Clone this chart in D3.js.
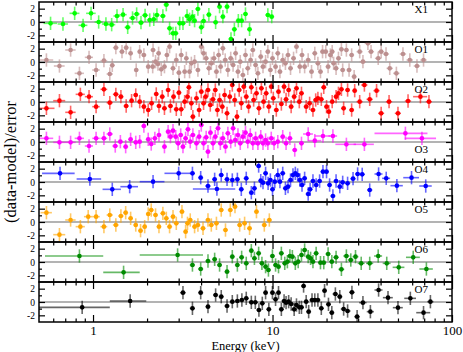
<!DOCTYPE html>
<html>
<head>
<meta charset="utf-8">
<script src="https://cdn.jsdelivr.net/npm/d3@7"></script>
<style>
  body { margin: 0; background: #fff; }
  svg { display: block; }
  text { font-family: "Liberation Serif", "Times New Roman", serif; }
</style>
</head>
<body>
<svg id="chart" width="463" height="352"></svg>
<script>
// Data: [energy keV, (data-model)/error, energy half-width keV]
var x1Data = [[0.58,-0.2,0.05],[0.68,-0.3,0.045],[0.79,1.3,0.05],[0.88,-0.5,0.05],[0.975,1.3,0.06],[1.075,0.0,0.055],[1.18,-0.3,0.06],[1.27,-0.4,0.06],[1.36,0.9,0.06],[1.47,1.1,0.07],[1.56,-0.8,0.06],[1.66,0.6,0.07],[1.75,1.2,0.07],[1.85,-0.1,0.07],[1.95,1.0,0.08],[2.07,0.3,0.08],[2.18,0.4,0.08],[2.27,1.05,0.08],[2.45,0.9,0.09],[2.56,2.6,0.09],[2.67,-0.95,0.09],[2.79,-1.7,0.1],[2.89,-1.7,0.1],[3.04,-0.2,0.1],[3.17,-0.2,0.11],[3.34,0.9,0.11],[3.45,0.4,0.12],[3.58,0.8,0.12],[3.68,0.2,0.12],[3.84,1.95,0.13],[4.01,-0.8,0.13],[4.13,0.15,0.14],[4.42,1.1,0.15],[4.82,-0.05,0.16],[5.07,2.3,0.17],[5.29,0.8,0.17],[5.58,2.3,0.18],[5.87,-2.55,0.19],[6.13,-1.1,0.2],[6.45,0.2,0.21],[6.73,0.2,0.22],[7.07,1.2,0.23],[7.45,-1.1,0.24],[9.42,1.05,0.3],[9.9,0.8,0.32]]

var o1Data = [[0.55,0.3,0.05],[0.65,-0.6,0.045],[0.75,1.8,0.05],[0.84,-1.7,0.05],[0.95,0.7,0.05],[1.04,-1.2,0.05],[1.15,0.2,0.05],[1.24,-1.8,0.05],[1.28,-0.5,0.04],[1.34,2.15,0.05],[1.45,1.55,0.05],[1.53,2.15,0.05],[1.62,1.3,0.05],[1.74,-1.2,0.05],[1.82,1.55,0.05],[1.92,1.05,0.06],[2.03,-0.7,0.06],[2.15,-0.7,0.07],[2.16,1.8,0.07],[2.23,0.05,0.07],[2.3,-0.3,0.07],[2.32,1.3,0.07],[2.4,-1.1,0.08],[2.5,-0.7,0.08],[2.58,1.05,0.08],[2.67,2.3,0.09],[2.79,-0.95,0.09],[2.91,0.3,0.09],[3.01,-1.6,0.1],[3.1,1.05,0.1],[3.24,-1.45,0.1],[3.31,0.55,0.1],[3.45,-1.45,0.11],[3.53,-0.2,0.11],[3.68,0.05,0.12],[3.84,-1.2,0.12],[4.01,2.3,0.13],[4.13,1.3,0.13],[4.27,0.55,0.14],[4.42,-0.95,0.14],[4.56,-0.2,0.15],[4.72,0.55,0.15],[4.87,-1.45,0.16],[5.01,1.05,0.16],[5.14,-0.7,0.17],[5.29,2.05,0.17],[5.45,0.3,0.18],[5.64,-1.2,0.18],[5.85,0.55,0.19],[6.03,-0.45,0.2],[6.23,1.3,0.2],[6.42,-1.45,0.21],[6.61,0.05,0.21],[6.84,-1.95,0.22],[7.07,1.05,0.23],[7.28,-0.95,0.24],[7.55,0.3,0.24],[7.77,1.8,0.25],[8.05,-0.45,0.26],[8.29,-1.7,0.27],[8.6,0.8,0.28],[8.85,-0.7,0.29],[9.15,0.05,0.3],[9.42,1.55,0.3],[9.73,-1.2,0.31],[10.0,0.55,0.32],[10.4,-0.7,0.33],[10.7,1.3,0.34],[11.0,-1.45,0.35],[11.4,0.3,0.37],[11.8,-0.2,0.38],[12.2,1.05,0.39],[12.6,-0.95,0.4],[13.1,0.55,0.42],[13.6,2.3,0.44],[14.2,-0.7,0.46],[14.6,1.05,0.47],[15.1,-0.7,0.49],[15.8,0.3,0.51],[16.5,-1.45,0.53],[17.2,1.3,0.55],[17.9,-0.2,0.57],[18.5,-1.45,0.6],[19.0,1.55,0.61],[19.8,1.55,0.64],[20.4,-0.7,0.66],[21.0,1.05,0.68],[21.5,1.55,0.69],[21.9,-0.2,0.7],[22.6,-0.95,0.73],[23.3,0.55,0.75],[24.2,1.9,0.78],[24.6,-1.2,0.79],[25.8,1.8,0.83],[26.7,-1.2,0.86],[27.6,1.05,0.89],[28.5,-2.2,0.92],[30.6,1.55,1.2],[31.9,0.05,1.3],[34.0,2.8,1.4],[35.4,1.55,1.4],[38.8,0.55,1.6],[40.3,1.55,1.6],[42.9,1.2,1.7],[45.0,-0.95,1.8],[49.0,-1.7,2.0],[53.3,1.2,2.2],[58.2,0.3,2.4],[63.8,-0.6,2.6],[69.4,0.3,2.8]]

var o2Data = [[0.55,-0.95,0.06],[0.65,0.2,0.05],[0.75,-1.55,0.05],[0.85,1.15,0.05],[0.95,0.8,0.05],[1.04,-0.7,0.05],[1.15,1.9,0.05],[1.24,-0.1,0.05],[1.34,1.15,0.05],[1.43,0.8,0.05],[1.53,-0.6,0.05],[1.64,0.2,0.05],[1.73,1.05,0.05],[1.82,0.05,0.05],[1.92,-0.7,0.06],[2.03,-1.2,0.06],[2.12,-0.2,0.07],[2.25,1.2,0.07],[2.33,-0.6,0.07],[2.43,0.8,0.08],[2.5,-0.95,0.08],[2.62,1.8,0.08],[2.7,-0.6,0.09],[2.81,0.8,0.09],[2.91,-1.1,0.09],[3.01,1.4,0.1],[3.1,-1.1,0.1],[3.24,0.05,0.1],[3.36,0.8,0.11],[3.42,2.2,0.11],[3.53,-0.2,0.11],[3.6,-2.2,0.12],[3.77,0.55,0.12],[3.9,-1.2,0.12],[4.01,1.55,0.13],[4.13,-0.2,0.13],[4.24,0.8,0.14],[4.37,1.8,0.14],[4.5,-0.45,0.14],[4.66,0.4,0.15],[4.8,1.8,0.15],[4.93,-1.2,0.16],[5.07,0.3,0.16],[5.25,-0.7,0.17],[5.41,1.05,0.17],[5.58,-1.7,0.18],[5.78,0.8,0.18],[5.97,2.55,0.19],[6.16,0.3,0.2],[6.34,-2.2,0.2],[6.52,1.8,0.21],[6.7,-0.2,0.21],[6.92,2.3,0.22],[7.14,0.8,0.23],[7.36,-0.7,0.24],[7.62,2.2,0.24],[7.85,0.3,0.25],[8.14,1.3,0.26],[8.4,-0.95,0.27],[8.67,2.05,0.28],[8.92,0.05,0.29],[9.22,1.3,0.3],[9.54,-0.7,0.31],[9.84,2.3,0.31],[10.1,0.55,0.32],[10.5,-1.2,0.34],[10.8,1.55,0.35],[11.2,-0.3,0.36],[11.6,2.3,0.37],[11.9,0.4,0.38],[12.3,1.8,0.39],[12.7,-0.7,0.41],[13.2,0.8,0.42],[13.6,2.05,0.44],[14.1,0.05,0.45],[14.5,1.3,0.46],[15.4,-0.7,0.49],[16.1,-0.2,0.52],[16.8,-1.2,0.54],[17.4,0.3,0.56],[17.9,0.55,0.57],[18.7,0.4,0.6],[19.3,2.2,0.62],[20.0,-0.7,0.64],[20.6,-1.45,0.66],[21.5,0.05,0.69],[22.6,0.8,0.72],[23.3,1.3,0.75],[24.2,1.9,0.77],[24.9,-0.95,0.8],[26.2,1.8,0.84],[27.6,-1.2,0.88],[28.7,1.7,0.92],[30.6,0.05,1.2],[32.5,2.55,1.3],[34.8,0.4,1.4],[38.0,1.7,1.5],[40.3,-1.7,1.6],[44.6,0.05,1.8],[50.0,-1.7,2.0],[56.9,0.15,2.3],[66.7,0.8,6.0],[74.4,0.05,3.0]]

var o3Data = [[0.55,0.55,0.05],[0.65,-0.05,0.05],[0.75,-0.05,0.05],[0.84,0.55,0.05],[0.95,-0.6,0.05],[1.04,0.55,0.05],[1.15,0.55,0.05],[1.24,1.2,0.05],[1.33,-0.6,0.05],[1.42,0.05,0.05],[1.52,-0.7,0.05],[1.62,0.4,0.05],[1.73,-0.05,0.05],[1.82,0.05,0.05],[1.92,2.4,0.06],[2.03,0.4,0.06],[2.11,-0.3,0.07],[2.21,0.55,0.07],[2.33,1.05,0.07],[2.5,-0.7,0.08],[2.62,1.55,0.08],[2.7,0.8,0.09],[2.79,1.7,0.09],[2.89,0.8,0.09],[2.98,-0.2,0.1],[3.08,1.05,0.1],[3.17,-0.7,0.1],[3.28,0.55,0.1],[3.38,1.9,0.11],[3.48,0.05,0.11],[3.6,1.05,0.12],[3.77,-0.2,0.12],[3.9,0.8,0.12],[4.01,2.55,0.13],[4.13,-0.2,0.13],[4.27,0.7,0.14],[4.37,-1.45,0.14],[4.51,1.4,0.14],[4.66,-0.2,0.15],[4.8,0.8,0.15],[4.97,2.05,0.16],[5.12,-0.2,0.16],[5.29,0.55,0.17],[5.47,-0.7,0.18],[5.64,1.3,0.18],[5.85,0.05,0.19],[6.03,2.05,0.19],[6.2,0.3,0.2],[6.42,1.05,0.21],[6.61,-0.2,0.21],[6.84,0.8,0.22],[7.07,1.4,0.23],[7.28,0.05,0.23],[7.52,1.05,0.24],[7.77,-0.2,0.25],[8.05,0.55,0.26],[8.29,-0.2,0.27],[8.6,0.8,0.28],[8.85,-0.2,0.28],[9.15,0.3,0.29],[9.42,-0.2,0.3],[9.84,0.55,0.32],[10.2,-0.2,0.33],[10.7,0.05,0.34],[11.4,0.8,0.37],[11.9,-0.2,0.38],[12.5,0.55,0.4],[13.3,-1.2,0.43],[14.5,-0.2,0.46],[15.8,1.2,1.0],[17.2,0.2,1.5],[19.1,0.9,1.9],[21.7,0.9,1.2],[25.8,-0.35,3.4],[32.5,-0.35,4.2],[55.0,1.3,18.0],[68.0,0.55,13.5]]

var o4Data = [[0.655,1.3,0.135],[0.96,0.45,0.15],[1.28,-1.1,0.15],[1.6,-0.7,0.18],[2.16,0.05,0.34],[3.0,1.3,0.5],[3.58,1.3,0.12],[3.98,0.65,0.13],[4.37,-0.6,0.15],[4.76,0.4,0.15],[4.9,-1.05,1.3],[5.18,1.05,0.17],[5.58,0.4,0.18],[5.97,0.3,0.19],[6.37,0.4,0.2],[6.7,-1.1,0.21],[7.14,0.55,0.23],[7.62,-1.6,0.24],[7.93,-0.95,0.25],[8.37,2.4,0.27],[8.6,0.2,0.28],[8.85,-0.1,0.28],[9.15,1.3,0.29],[9.45,-0.2,0.3],[9.73,0.3,0.31],[10.0,-1.1,0.32],[10.3,0.05,0.33],[10.7,1.05,0.34],[11.0,0.05,0.35],[11.4,1.3,0.37],[11.8,-0.95,0.38],[12.2,-0.7,0.39],[12.6,0.3,0.4],[13.0,1.05,0.42],[13.4,1.3,0.43],[13.8,1.05,0.44],[14.2,0.3,0.45],[14.6,-0.45,0.47],[15.1,0.55,0.48],[15.8,-1.8,0.5],[16.2,-1.1,0.52],[16.8,0.15,0.54],[17.5,-0.45,0.56],[18.3,0.15,0.59],[19.1,1.55,0.61],[20.0,1.55,0.64],[20.8,-0.45,0.67],[21.7,-2.1,0.7],[22.6,0.15,0.72],[23.7,-0.7,0.76],[24.6,-0.05,0.8],[26.2,-0.2,0.9],[28.1,0.5,1.0],[29.8,1.2,1.0],[31.6,1.15,1.1],[34.8,-1.2,1.2],[39.0,1.2,2.0],[43.0,0.55,2.2],[49.3,-0.55,3.9],[59.5,0.65,6.0],[71.4,-0.6,5.7]]

var o5Data = [[0.55,1.4,0.04],[0.65,-1.9,0.05],[0.75,0.3,0.05],[0.85,-0.7,0.05],[0.94,0.8,0.05],[1.04,0.8,0.05],[1.15,-0.7,0.05],[1.24,1.05,0.05],[1.34,-0.45,0.05],[1.43,0.9,0.05],[1.52,1.4,0.05],[1.62,0.55,0.05],[1.73,-0.45,0.05],[1.84,-1.3,0.06],[1.94,-0.7,0.06],[2.03,1.2,0.06],[2.11,1.8,0.07],[2.23,1.05,0.07],[2.33,-0.7,0.07],[2.45,1.3,0.08],[2.56,0.55,0.08],[2.67,-0.7,0.09],[2.79,0.8,0.09],[2.91,-0.2,0.09],[3.13,1.55,0.1],[3.28,-1.45,0.1],[3.36,-0.2,0.11],[3.48,0.3,0.11],[3.68,-0.7,0.12],[3.84,-0.45,0.12],[4.1,-0.95,0.13],[4.37,0.3,0.14],[4.56,-0.45,0.15],[4.87,-0.2,0.16],[5.18,1.8,0.17],[5.47,-1.2,0.18],[5.82,1.8,0.19],[6.18,2.3,0.2],[6.56,-0.45,0.21],[6.99,-0.2,0.22],[7.45,-0.95,0.24],[8.14,1.55,0.26],[9.0,-0.45,0.29],[9.6,0.3,0.31]]

var o6Data = [[0.84,0.9,0.3],[1.48,-1.55,0.34],[2.96,1.05,1.14],[3.58,-0.45,0.12],[3.98,-1.05,0.13],[4.37,0.15,0.14],[4.76,0.4,0.15],[5.07,-0.45,0.16],[5.58,-1.45,0.18],[5.97,0.8,0.19],[6.37,-0.45,0.2],[6.73,0.7,0.22],[7.14,-0.2,0.23],[7.62,1.7,0.24],[7.93,0.55,0.25],[8.37,1.3,0.27],[8.73,-0.2,0.28],[9.15,-0.7,0.29],[9.49,-1.2,0.3],[9.99,0.9,0.32],[10.4,-0.45,0.33],[10.8,-0.7,0.35],[11.2,1.3,0.36],[11.7,-0.2,0.37],[12.1,0.05,0.39],[12.5,0.9,0.4],[12.9,0.8,0.41],[13.4,-0.2,0.43],[13.9,0.05,0.44],[14.5,1.05,0.46],[15.1,1.8,0.48],[15.8,0.8,0.5],[16.3,0.55,0.52],[16.8,0.05,0.54],[17.5,1.3,0.56],[18.5,-0.1,0.6],[19.3,-0.1,0.62],[20.4,1.2,0.66],[21.4,0.05,0.7],[22.6,0.7,0.8],[24.2,-1.1,0.9],[25.8,0.9,1.0],[27.3,0.3,1.0],[29.0,0.8,1.1],[31.2,-0.2,1.4],[34.8,-0.2,1.6],[38.8,0.9,2.0],[43.3,-0.2,2.2],[50.5,-0.8,3.8],[60.8,0.7,5.4],[72.0,-1.05,6.2]]

var o7Data = [[0.87,-0.8,0.37],[1.61,0.15,0.37],[3.17,1.4,0.12],[3.58,-0.95,0.12],[3.98,1.4,0.13],[4.37,-0.7,0.14],[4.82,1.05,0.16],[5.18,0.8,0.17],[5.58,-0.6,0.18],[5.97,0.05,0.19],[6.37,0.15,0.2],[6.75,0.3,0.22],[7.14,0.55,0.23],[7.62,-0.05,0.24],[8.02,-0.05,0.26],[8.4,-1.2,0.27],[8.77,-0.2,0.28],[9.15,1.4,0.29],[9.54,-1.1,0.3],[9.99,1.4,0.32],[10.4,0.4,0.33],[10.8,1.4,0.35],[11.2,-1.1,0.36],[11.6,0.15,0.37],[11.9,-0.1,0.38],[12.3,0.05,0.39],[12.7,-0.3,0.41],[13.2,-1.1,0.42],[13.6,-0.45,0.44],[14.1,-0.8,0.45],[14.5,-0.8,0.46],[14.9,2.4,0.48],[15.4,0.05,0.49],[15.9,-1.45,0.51],[16.6,0.3,0.53],[17.2,0.3,0.55],[17.9,0.3,0.57],[18.7,-0.95,0.6],[19.5,1.7,0.62],[20.5,-0.35,0.66],[21.4,-1.6,0.7],[22.4,1.2,0.8],[23.7,0.8,0.8],[24.9,-1.05,0.9],[26.2,-1.35,1.0],[27.7,1.45,1.0],[29.6,-2.2,1.1],[31.9,-0.1,1.5],[35.1,-1.45,1.6],[39.0,1.8,2.0],[44.0,0.65,2.8],[50.0,-0.85,3.2],[58.6,0.55,4.4],[69.4,-1.6,6.2],[75.8,0.05,3.0]]

var panelNames = ['X1', 'O1', 'O2', 'O3', 'O4', 'O5', 'O6', 'O7']
var panelColors = ['#00ff00', '#bc8f8f', '#ff0000', '#ff00ff', '#0000ff', '#ffa500', '#008b00', '#000000']
var panelData = [x1Data, o1Data, o2Data, o3Data, o4Data, o5Data, o6Data, o7Data]
var xLabelTicks = [1, 10, 100]
var yMajorTicks = [-2, 0, 2]
var yMinorTicks = [-1, 1]
var yErr = 1

// Layout
var plotLeft = 39, plotRight = 452, plotTop = 2, panelH = 40
var nPanels = panelNames.length
var plotBottom = plotTop + nPanels * panelH

var svg = d3.select('#chart')
var x = d3.scaleLog().domain([0.5, 100]).range([plotLeft, plotRight])
var y = d3.scaleLinear().domain([-3, 3]).range([panelH, 0])

var allTicks = x.ticks()
var majorX = allTicks.filter(function(d) { return Math.abs(Math.log10(d) - Math.round(Math.log10(d))) < 1e-9 })
var minorX = allTicks.filter(function(d) { return majorX.indexOf(d) < 0 && d > 0.5 })

svg.append('defs').append('clipPath').attr('id', 'clip')
  .append('rect').attr('x', plotLeft).attr('y', 0).attr('width', plotRight - plotLeft).attr('height', panelH)

function tickStyle(g, w) {
  g.select('.domain').remove()
  g.selectAll('.tick line').attr('stroke', '#000').attr('stroke-width', w)
}

panelData.forEach(function(data, i) {
  var color = panelColors[i]
  var g = svg.append('g').attr('transform', 'translate(0,' + (plotTop + i * panelH) + ')')

  // zero line
  g.append('line')
    .attr('x1', plotLeft).attr('x2', plotRight)
    .attr('y1', y(0)).attr('y2', y(0))
    .attr('stroke', '#9a9a9a').attr('stroke-width', 1.5)

  var pts = g.append('g').attr('clip-path', 'url(#clip)')

  // error bars
  pts.selectAll('line.xe').data(data).enter().append('line')
    .attr('x1', function(d) { return x(Math.max(d[0] - d[2], 0.3)) })
    .attr('x2', function(d) { return x(d[0] + d[2]) })
    .attr('y1', function(d) { return y(d[1]) })
    .attr('y2', function(d) { return y(d[1]) })
    .attr('stroke', color).attr('stroke-opacity', 0.6).attr('stroke-width', 1.6)

  pts.selectAll('line.ye').data(data).enter().append('line')
    .attr('x1', function(d) { return x(d[0]) })
    .attr('x2', function(d) { return x(d[0]) })
    .attr('y1', function(d) { return y(d[1] - yErr) })
    .attr('y2', function(d) { return y(d[1] + yErr) })
    .attr('stroke', color).attr('stroke-opacity', 0.6).attr('stroke-width', 1.6)

  pts.selectAll('circle').data(data).enter().append('circle')
    .attr('cx', function(d) { return x(d[0]) })
    .attr('cy', function(d) { return y(d[1]) })
    .attr('r', 2.3)
    .attr('fill', color)

  // x ticks, top and bottom of each panel, pointing inward
  g.append('g').call(d3.axisBottom(x).tickValues(majorX).tickSize(7).tickFormat('')).call(tickStyle, 1.2)
  g.append('g').call(d3.axisBottom(x).tickValues(minorX).tickSize(3.5).tickFormat('')).call(tickStyle, 1.2)
  g.append('g').attr('transform', 'translate(0,' + panelH + ')')
    .call(d3.axisTop(x).tickValues(majorX).tickSize(7).tickFormat('')).call(tickStyle, 1.2)
  g.append('g').attr('transform', 'translate(0,' + panelH + ')')
    .call(d3.axisTop(x).tickValues(minorX).tickSize(3.5).tickFormat('')).call(tickStyle, 1.2)

  // y ticks, left with labels, right without
  var yl = g.append('g').attr('transform', 'translate(' + plotLeft + ',0)')
    .call(d3.axisLeft(y).tickValues(yMajorTicks).tickSize(-6).tickPadding(4).tickFormat(function(d) { return String(d) }))
    .call(tickStyle, 1.2)
  yl.attr('font-family', null).attr('font-size', null)
  yl.selectAll('text').attr('font-size', '9.5px').attr('fill', '#000')
  g.append('g').attr('transform', 'translate(' + plotLeft + ',0)')
    .call(d3.axisLeft(y).tickValues(yMinorTicks).tickSize(-3).tickFormat('')).call(tickStyle, 1.2)
  g.append('g').attr('transform', 'translate(' + plotRight + ',0)')
    .call(d3.axisLeft(y).tickValues(yMajorTicks).tickSize(6).tickFormat('')).call(tickStyle, 1.2)
  g.append('g').attr('transform', 'translate(' + plotRight + ',0)')
    .call(d3.axisLeft(y).tickValues(yMinorTicks).tickSize(3).tickFormat('')).call(tickStyle, 1.2)

  // frame
  g.append('rect')
    .attr('x', plotLeft).attr('y', 0).attr('width', plotRight - plotLeft).attr('height', panelH)
    .attr('fill', 'none').attr('stroke', '#000').attr('stroke-width', 1.5)

  // panel label
  g.append('text')
    .attr('x', 428)
    .attr('y', panelNames[i] === 'O3' ? 31 : 11)
    .attr('text-anchor', 'end')
    .attr('font-size', '11px')
    .text(panelNames[i])
})

// bottom tick labels
var xb = svg.append('g').attr('transform', 'translate(0,' + plotBottom + ')')
  .call(d3.axisBottom(x).tickValues(xLabelTicks).tickSize(0).tickPadding(3.5).tickFormat(d3.format('d')))
xb.select('.domain').remove()
xb.attr('font-family', null).attr('font-size', null)
xb.selectAll('text').attr('font-size', '13px').attr('fill', '#000')

svg.append('text')
  .attr('x', (plotLeft + plotRight) / 2).attr('y', 349.5)
  .attr('text-anchor', 'middle').attr('font-size', '12.5px')
  .text('Energy (keV)')

svg.append('text')
  .attr('transform', 'translate(16,' + (plotTop + plotBottom) / 2 + ') rotate(-90)')
  .attr('text-anchor', 'middle').attr('font-size', '16.5px')
  .text('(data-model)/error')
</script>
</body>
</html>
